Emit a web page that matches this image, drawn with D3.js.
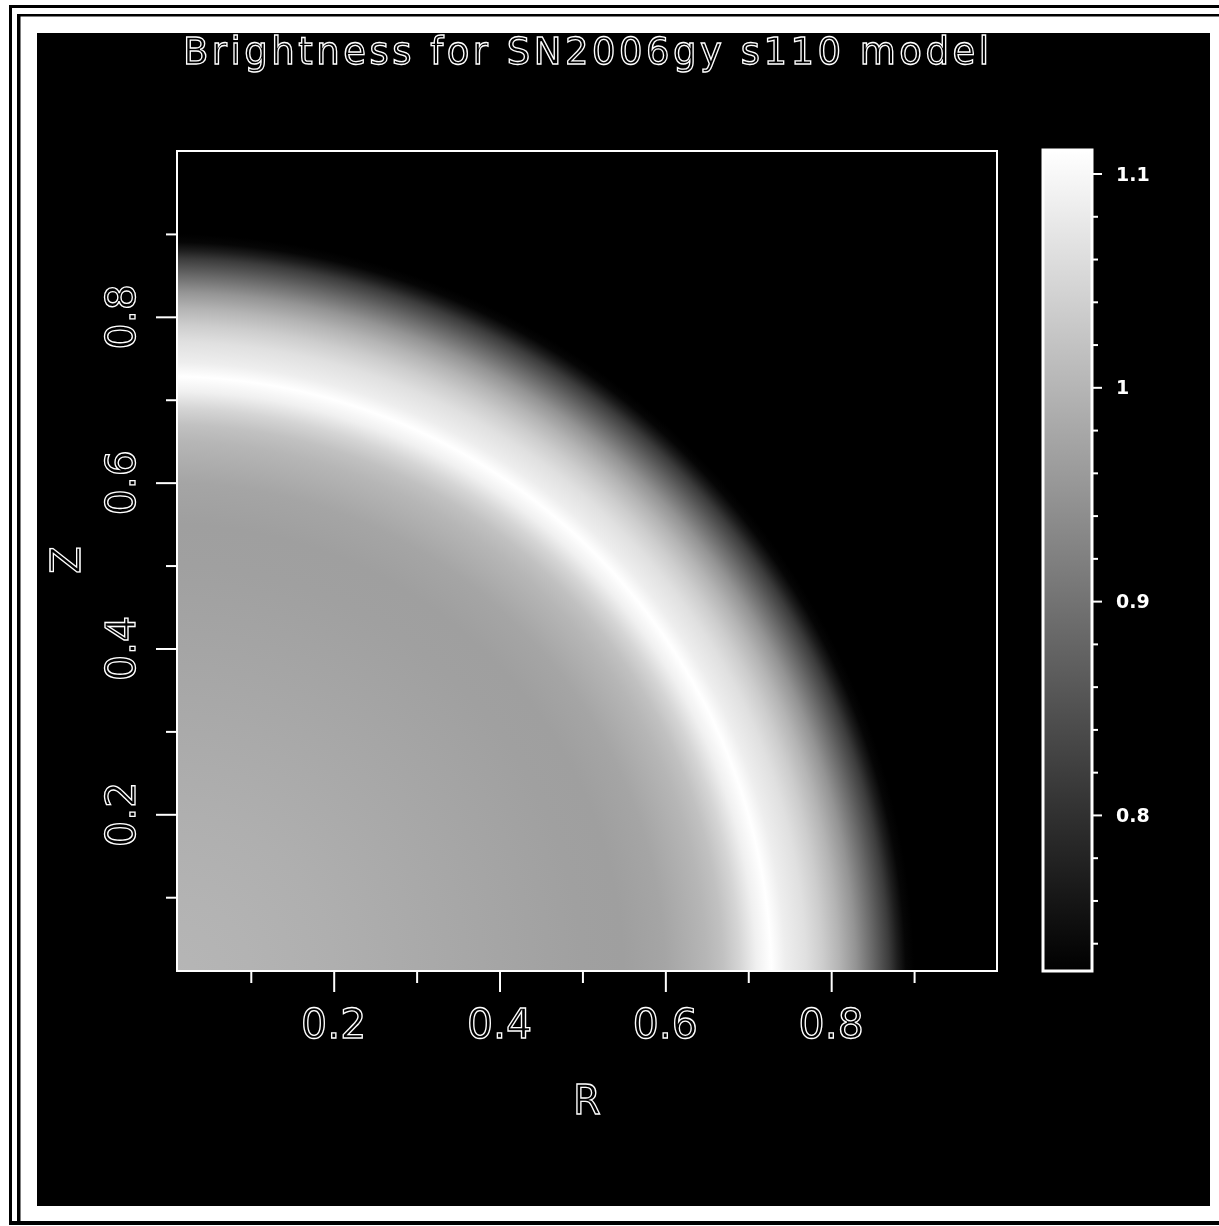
<!DOCTYPE html>
<html>
<head>
<meta charset="utf-8">
<script src="https://cdn.jsdelivr.net/npm/d3@7"></script>
<style>
  html, body { margin: 0; padding: 0; background: #fff; }
  svg { display: block; }
  .lbl { filter: grayscale(1); }
</style>
</head>
<body>
<script>
// ---------- data ----------
const titleText = "Brightness for SN2006gy s110 model";
const xLabel = "R";
const yLabel = "Z";
// radial brightness profile, r = sqrt(R^2 + Z^2)
const radius     = [0.00, 0.10, 0.20, 0.30, 0.40, 0.50, 0.55, 0.60, 0.63, 0.65, 0.67, 0.69, 0.71, 0.728, 0.745, 0.77, 0.79, 0.81, 0.83, 0.85, 0.87, 0.88, 0.89, 0.90, 1.00];
const brightness = [1.001, 0.997, 0.991, 0.983, 0.975, 0.968, 0.966, 0.975, 0.991, 1.001, 1.018, 1.048, 1.088, 1.111, 1.085, 1.064, 1.036, 0.998, 0.950, 0.885, 0.817, 0.772, 0.736, 0.727, 0.727];
const axisDomain = [0.011, 1.0];
const majorTicks = [0.2, 0.4, 0.6, 0.8];
const minorTicks = [0.1, 0.3, 0.5, 0.7, 0.9];
const tickLabels = ["0.2", "0.4", "0.6", "0.8"];
const colorDomain = [0.727, 1.111];
const cbMajorTicks = [0.8, 0.9, 1.0, 1.1];
const cbTickLabels = ["0.8", "0.9", "1", "1.1"];
const cbMinorTicks = [0.74, 0.76, 0.78, 0.82, 0.84, 0.86, 0.88, 0.92, 0.94, 0.96, 0.98, 1.02, 1.04, 1.06, 1.08];

// ---------- layout ----------
const W = 1219, H = 1226;
const plot = { x0: 177, x1: 997, y0: 151, y1: 971 };
const cb = { x0: 1043, x1: 1092, y0: 150, y1: 971 };

const svg = d3.select("body").append("svg").attr("width", W).attr("height", H);
svg.append("rect").attr("width", W).attr("height", H).attr("fill", "#fff");

// frame lines of the page
const frame = svg.append("g").attr("fill", "#000");
frame.append("rect").attr("x", 9).attr("y", 5).attr("width", W - 9).attr("height", 3);
frame.append("rect").attr("x", 17).attr("y", 14).attr("width", W - 17).attr("height", 2.5);
frame.append("rect").attr("x", 9).attr("y", 5).attr("width", 3).attr("height", 1221 - 5);
frame.append("rect").attr("x", 17).attr("y", 14).attr("width", 3.5).attr("height", 1221 - 14);
frame.append("rect").attr("x", 9).attr("y", 1221).attr("width", W - 9).attr("height", 4);
frame.append("rect").attr("x", 37).attr("y", 33).attr("width", 1210 - 37).attr("height", 1206 - 33);

// ---------- scales ----------
const x = d3.scaleLinear().domain(axisDomain).range([plot.x0, plot.x1]);
const y = d3.scaleLinear().domain(axisDomain).range([plot.y1, plot.y0]);
const color = d3.scaleLinear().domain(colorDomain).range(["#000000", "#ffffff"]).clamp(true);
const cy = d3.scaleLinear().domain(colorDomain).range([cb.y1, cb.y0]);

const defs = svg.append("defs");
// radial field centred on (R=0, Z=0)
const rg = defs.append("radialGradient").attr("id", "field")
  .attr("gradientUnits", "userSpaceOnUse")
  .attr("cx", x(0)).attr("cy", y(0)).attr("fx", x(0)).attr("fy", y(0))
  .attr("r", x(1) - x(0));
radius.forEach((r, i) => {
  rg.append("stop").attr("offset", r).attr("stop-color", color(brightness[i]));
});
defs.append("clipPath").attr("id", "plotclip").append("rect")
  .attr("x", plot.x0).attr("y", plot.y0).attr("width", plot.x1 - plot.x0).attr("height", plot.y1 - plot.y0);

svg.append("rect").attr("clip-path", "url(#plotclip)")
  .attr("x", plot.x0).attr("y", plot.y0).attr("width", plot.x1 - plot.x0).attr("height", plot.y1 - plot.y0)
  .attr("fill", "url(#field)");

// plot box
svg.append("rect").attr("x", plot.x0).attr("y", plot.y0)
  .attr("width", plot.x1 - plot.x0).attr("height", plot.y1 - plot.y0)
  .attr("fill", "none").attr("stroke", "#fff").attr("stroke-width", 2);

// ---------- axes ----------
function styleAxis(g) {
  g.select(".domain").remove();
  g.selectAll("line").attr("stroke", "#fff").attr("stroke-width", 2);
}
svg.append("g").attr("transform", `translate(0,${plot.y1})`)
  .call(d3.axisBottom(x).tickValues(majorTicks).tickSize(21).tickFormat(""))
  .call(styleAxis);
svg.append("g").attr("transform", `translate(0,${plot.y1})`)
  .call(d3.axisBottom(x).tickValues(minorTicks).tickSize(12).tickFormat(""))
  .call(styleAxis);
svg.append("g").attr("transform", `translate(${plot.x0},0)`)
  .call(d3.axisLeft(y).tickValues(majorTicks).tickSize(21).tickFormat(""))
  .call(styleAxis);
svg.append("g").attr("transform", `translate(${plot.x0},0)`)
  .call(d3.axisLeft(y).tickValues(minorTicks).tickSize(11).tickFormat(""))
  .call(styleAxis);

const font = "'DejaVu Sans', sans-serif";
function outlined(sel, size, sw) {
  sel.attr("font-family", font).attr("font-size", size)
    .attr("fill", "none").attr("stroke", "#fff").attr("stroke-width", sw);
}
const labels = svg.append("g").attr("class", "lbl");

labels.append("g").selectAll("text").data(majorTicks).join("text")
  .attr("x", d => x(d)).attr("y", 1038).attr("text-anchor", "middle")
  .text((d, i) => tickLabels[i])
  .call(outlined, 41, 1.3);

labels.append("g").selectAll("text").data(majorTicks).join("text")
  .attr("transform", d => `translate(135,${y(d)}) rotate(-90)`)
  .attr("text-anchor", "middle")
  .text((d, i) => tickLabels[i])
  .call(outlined, 41, 1.3);

labels.append("text").attr("x", 587).attr("y", 1114).attr("text-anchor", "middle")
  .text(xLabel).call(outlined, 40, 1.3);
labels.append("text").attr("transform", `translate(80,560) rotate(-90)`).attr("text-anchor", "middle")
  .text(yLabel).call(outlined, 40, 1.3);

labels.append("text").attr("x", 586).attr("y", 64).attr("text-anchor", "middle")
  .attr("textLength", 806).attr("lengthAdjust", "spacing")
  .text(titleText).call(outlined, 37, 1.3);

// ---------- colour bar ----------
const lg = defs.append("linearGradient").attr("id", "cbgrad")
  .attr("x1", 0).attr("y1", 1).attr("x2", 0).attr("y2", 0);
lg.append("stop").attr("offset", 0).attr("stop-color", color(colorDomain[0]));
lg.append("stop").attr("offset", 1).attr("stop-color", color(colorDomain[1]));
svg.append("rect").attr("x", cb.x0).attr("y", cb.y0)
  .attr("width", cb.x1 - cb.x0).attr("height", cb.y1 - cb.y0)
  .attr("fill", "url(#cbgrad)").attr("stroke", "#fff").attr("stroke-width", 3);

svg.append("g").attr("transform", `translate(${cb.x1},0)`)
  .call(d3.axisRight(cy).tickValues(cbMajorTicks).tickSize(10).tickFormat(""))
  .call(styleAxis);
svg.append("g").attr("transform", `translate(${cb.x1},0)`)
  .call(d3.axisRight(cy).tickValues(cbMinorTicks).tickSize(6).tickFormat(""))
  .call(styleAxis);
labels.append("g").selectAll("text").data(cbMajorTicks).join("text")
  .attr("x", 1116).attr("y", d => cy(d) + 7)
  .attr("font-family", font).attr("font-size", 19).attr("font-weight", 600).attr("fill", "#fff")
  .text((d, i) => cbTickLabels[i]);
</script>
</body>
</html>
